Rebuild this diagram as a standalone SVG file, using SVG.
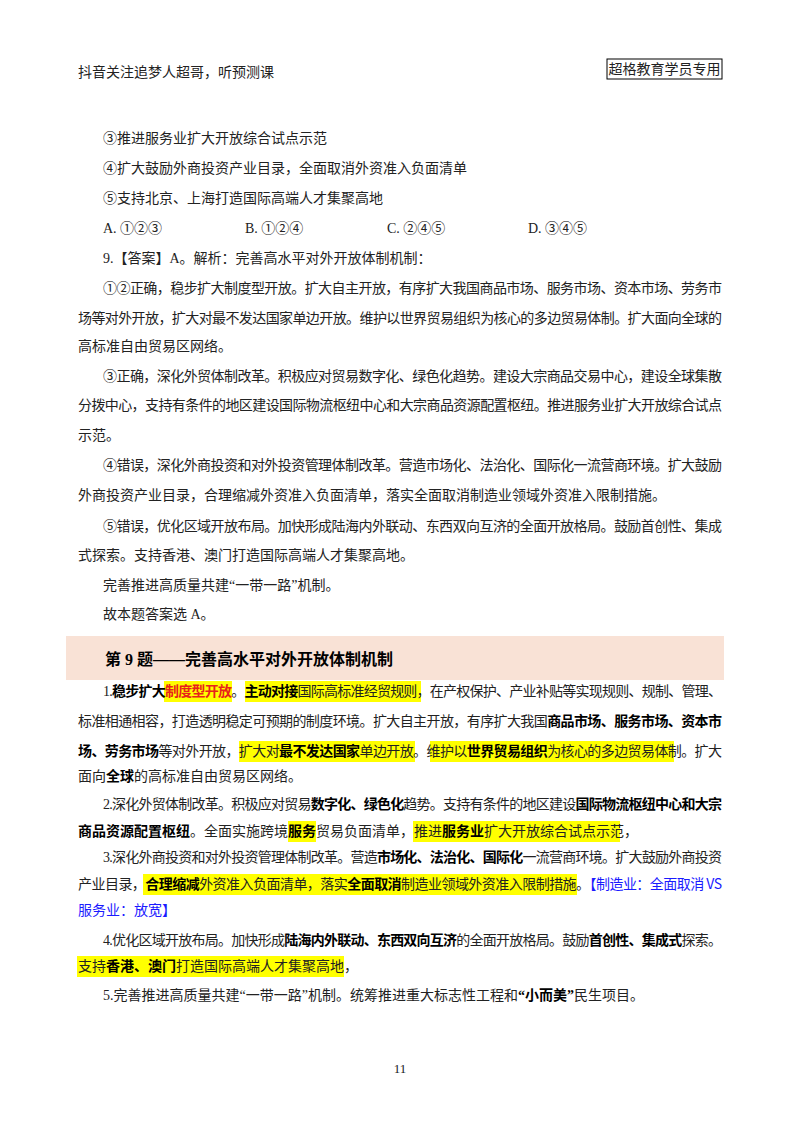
<svg xmlns="http://www.w3.org/2000/svg" width="800" height="1132" viewBox="0 0 800 1132">
<style>
text{font-family:"Liberation Serif","Noto Sans CJK SC",serif;font-size:14px;fill:#222}
.b{font-weight:bold;fill:#000}
.r{fill:#e8221b;font-weight:bold}
.bl{fill:#1a1aff;font-family:"Noto Sans CJK SC",sans-serif}
.hl{fill:#ffff00}
</style>
<rect width="800" height="1132" fill="#fff"/>
<g id="header">
<text x="78" y="77">抖音关注追梦人超哥，听预测课</text>
<rect x="607" y="59" width="115" height="20" fill="none" stroke="#000" stroke-width="1"/>
<text x="664.5" y="74" text-anchor="middle">超格教育学员专用</text>
</g>
<g id="answer">
<text x="103" y="143">③推进服务业扩大开放综合试点示范</text>
<text x="103" y="173">④扩大鼓励外商投资产业目录，全面取消外资准入负面清单</text>
<text x="103" y="203">⑤支持北京、上海打造国际高端人才集聚高地</text>
<text x="103" y="233">A. ①②③</text>
<text x="245" y="233">B. ①②④</text>
<text x="387" y="233">C. ②④⑤</text>
<text x="528" y="233">D. ③④⑤</text>
<text x="103" y="263">9.【答案】A。解析：完善高水平对外开放体制机制：</text>
<text x="103" y="293" textLength="619">①②正确，稳步扩大制度型开放。扩大自主开放，有序扩大我国商品市场、服务市场、资本市场、劳务市</text>
<text x="78" y="323" textLength="644">场等对外开放，扩大对最不发达国家单边开放。维护以世界贸易组织为核心的多边贸易体制。扩大面向全球的</text>
<text x="78" y="351">高标准自由贸易区网络。</text>
<text x="103" y="381" textLength="619">③正确，深化外贸体制改革。积极应对贸易数字化、绿色化趋势。建设大宗商品交易中心，建设全球集散</text>
<text x="78" y="410" textLength="644">分拨中心，支持有条件的地区建设国际物流枢纽中心和大宗商品资源配置枢纽。推进服务业扩大开放综合试点</text>
<text x="78" y="440">示范。</text>
<text x="103" y="470" textLength="619">④错误，深化外商投资和对外投资管理体制改革。营造市场化、法治化、国际化一流营商环境。扩大鼓励</text>
<text x="78" y="500">外商投资产业目录，合理缩减外资准入负面清单，落实全面取消制造业领域外资准入限制措施。</text>
<text x="103" y="531" textLength="619">⑤错误，优化区域开放布局。加快形成陆海内外联动、东西双向互济的全面开放格局。鼓励首创性、集成</text>
<text x="78" y="560">式探索。支持香港、澳门打造国际高端人才集聚高地。</text>
<text x="103" y="590">完善推进高质量共建“一带一路”机制。</text>
<text x="103" y="619">故本题答案选 A。</text>
</g>
<g id="title">
<rect x="66" y="636" width="658" height="44" fill="#f9e2d6"/>
<text x="105" y="665" class="b" style="font-size:16px">第 9 题——完善高水平对外开放体制机制</text>
</g>
<g id="highlights">
<rect class="hl" x="164" y="681" width="68" height="21"/>
<rect class="hl" x="245" y="681" width="176" height="21"/>
<rect class="hl" x="239" y="741" width="176" height="21"/>
<rect class="hl" x="430" y="741" width="244" height="21"/>
<rect class="hl" x="288" y="821" width="28" height="21"/>
<rect class="hl" x="413" y="821" width="207" height="21"/>
<rect class="hl" x="143" y="874" width="434" height="21"/>
<rect class="hl" x="77" y="956" width="267" height="21"/>
</g>
<g id="body">
<text x="103" y="696" textLength="619">1.<tspan class="b">稳步扩大</tspan><tspan class="r">制度型开放</tspan>。<tspan class="b">主动对接</tspan>国际高标准经贸规则，在产权保护、产业补贴等实现规则、规制、管理、</text>
<text x="78" y="726" textLength="644">标准相通相容，打造透明稳定可预期的制度环境。扩大自主开放，有序扩大我国<tspan class="b">商品市场、服务市场、资本市</tspan></text>
<text x="78" y="756" textLength="644"><tspan class="b">场、劳务市场</tspan>等对外开放，扩大对<tspan class="b">最不发达国家</tspan>单边开放。维护以<tspan class="b">世界贸易组织</tspan>为核心的多边贸易体制。扩大</text>
<text x="78" y="781">面向<tspan class="b">全球</tspan>的高标准自由贸易区网络。</text>
<text x="103" y="809" textLength="619">2.深化外贸体制改革。积极应对贸易<tspan class="b">数字化、绿色化</tspan>趋势。支持有条件的地区建设<tspan class="b">国际物流枢纽中心和大宗</tspan></text>
<text x="78" y="836"><tspan class="b">商品资源配置枢纽</tspan>。全面实施跨境<tspan class="b">服务</tspan>贸易负面清单，推进<tspan class="b">服务业</tspan>扩大开放综合试点示范，</text>
<text x="103" y="862" textLength="619">3.深化外商投资和对外投资管理体制改革。营造<tspan class="b">市场化、法治化、国际化</tspan>一流营商环境。扩大鼓励外商投资</text>
<text x="78" y="889" textLength="644">产业目录，<tspan class="b">合理缩减</tspan>外资准入负面清单，落实<tspan class="b">全面取消</tspan>制造业领域外资准入限制措施。<tspan class="bl">【制造业：全面取消 VS</tspan></text>
<text x="78" y="915" class="bl">服务业：放宽】</text>
<text x="103" y="945" textLength="619">4.优化区域开放布局。加快形成<tspan class="b">陆海内外联动、东西双向互济</tspan>的全面开放格局。鼓励<tspan class="b">首创性、集成式</tspan>探索。</text>
<text x="78" y="971">支持<tspan class="b">香港、澳门</tspan>打造国际高端人才集聚高地，</text>
<text x="103" y="1000">5.完善推进高质量共建“一带一路”机制。统筹推进重大标志性工程和<tspan class="b">“小而美”</tspan>民生项目。</text>
</g>
<text x="400" y="1073" text-anchor="middle" style="font-size:13px">11</text>
</svg>
